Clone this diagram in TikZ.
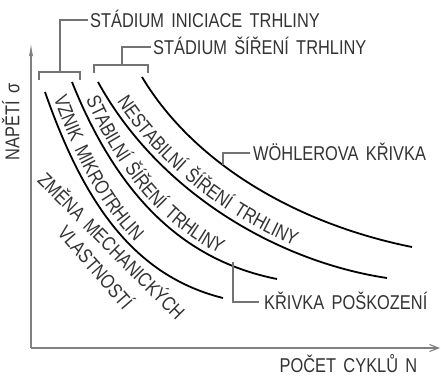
\documentclass[tikz,border=0pt]{standalone}
\usepackage{fontspec}
\newfontfamily\techfont[FakeStretch=0.82,WordSpace=1.6]{Liberation Sans}
\usetikzlibrary{decorations.text,arrows.meta}

\newcommand{\tf}{\techfont\fontsize{20}{24}\selectfont}
\tikzset{
  curve/.style={line width=1.8pt,black},
  leader/.style={line width=1.1pt,black!55},
  axis/.style={line width=1.1pt,black!50},
  lbl/.style={font=\tf,text=black!80,inner sep=0pt,text height=14.5pt,text depth=0pt},
  along/.style n args={3}{postaction={decorate,decoration={text along path,
     text={|\tf|#1},text color=black!80,raise=#2,text align={left indent=#3}}}}
}

\begin{document}
\begin{tikzpicture}[x=1pt,y=1pt]
  \useasboundingbox (0,0) rectangle (441,-376);
  % axes
  \coordinate (origin) at (31,-348);
  \coordinate (ytip) at (31,-43);
  \coordinate (xtip) at (440,-348);
  \draw[axis,-{Latex[length=13pt,width=4pt]}] (origin) -- (ytip);
  \draw[axis,-{Straight Barb[length=9pt,width=7pt]}] (origin) -- (xtip);
  \node[lbl,rotate=90] (sigma) at (12,-122) {NAPĚTÍ σ};
  \node[lbl] (cycles) at (348.5,-365.5) {POČET CYKLŮ N};

  % curves
  \draw[curve] (45,-92) .. controls (83.5,-202) and (133,-275.5) .. (223,-298);
  \draw[curve] (72,-82) .. controls (124,-212) and (197,-263) .. (277,-279);
  \draw[curve] (98,-82) .. controls (158.5,-192) and (277,-261.5) .. (387,-278);
  \draw[curve] (142,-77) .. controls (196,-167) and (302,-225) .. (412,-247);

  % texts along the curves
  \path[along={VZNIK MIKROTRHLIN}{6pt}{9pt}]
    (45,-92) .. controls (83.5,-202) and (133,-275.5) .. (223,-298);
  \path[along={STABILNÍ ŠÍŘENÍ TRHLINY}{6pt}{22pt}]
    (72,-82) .. controls (124,-212) and (197,-263) .. (277,-279);
  \path[along={NESTABILNÍ ŠÍŘENÍ TRHLINY}{6pt}{27pt}]
    (98,-82) .. controls (158.5,-192) and (277,-261.5) .. (387,-278);
  \path[along={ZMĚNA MECHANICKÝCH}{0pt}{0pt}] (36.5,-181.5) -- (200,-345);
  \path[along={VLASTNOSTÍ}{0pt}{0pt}] (56.5,-233.5) -- (155,-347);

  % stage brackets
  \coordinate (initL) at (39,-80);
  \coordinate (initR) at (80,-80);
  \draw[leader] (initL) -- ++(0,8) -| (initR);
  \node[lbl,anchor=west] (init) at (90,-20) {STÁDIUM INICIACE TRHLINY};
  \draw[leader] (60,-72) |- ([xshift=-2pt]init.west);
  \coordinate (growL) at (94,-73);
  \coordinate (growR) at (148,-73);
  \draw[leader] (growL) -- ++(0,8) -| (growR);
  \node[lbl,anchor=west] (grow) at (153,-47) {STÁDIUM ŠÍŘENÍ TRHLINY};
  \draw[leader] (122,-65) |- ([xshift=-2pt]grow.west);

  % curve labels
  \node[lbl,anchor=west] (wohler) at (253,-153) {WÖHLEROVA KŘIVKA};
  \coordinate (wohlerpt) at (223,-165);
  \draw[leader] (wohlerpt) |- ([xshift=-3pt]wohler.west);
  \node[lbl,anchor=west] (damage) at (264,-302) {KŘIVKA POŠKOZENÍ};
  \coordinate (damagept) at (233,-262);
  \draw[leader] (damagept) |- ([xshift=-5pt]damage.west);
\end{tikzpicture}
\end{document}
